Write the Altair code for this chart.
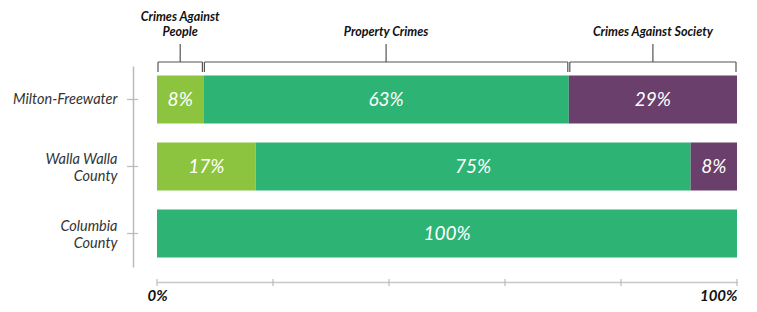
import altair as alt
import pandas as pd

# ---- data ----
categories = ["Milton-Freewater", "Walla Walla\nCounty", "Columbia\nCounty"]
crime_types = ["Crimes Against People", "Property Crimes", "Crimes Against Society"]
bracket_labels = ["Crimes Against\nPeople", "Property Crimes", "Crimes Against Society"]
people = [8, 17, 0]
property_crimes = [63, 75, 100]
society = [29, 8, 0]
x_ticks = [0, 20, 40, 60, 80, 100]
colors = ["#8cc43f", "#2db474", "#6b3f6b"]

FONT = "Lato"

rows = []
for i, cat in enumerate(categories):
    vals = [people[i], property_crimes[i], society[i]]
    start = 0
    for t, v in zip(crime_types, vals):
        rows.append({"cat": cat, "type": t, "value": v, "start": start,
                     "end": start + v, "mid": start + v / 2,
                     "label": f"{v}%"})
        start += v
df = pd.DataFrame(rows)

br = df[df["cat"] == categories[0]].copy()
br["blabel"] = bracket_labels

W, H = 580, 201

xscale = alt.Scale(domain=[0, 100], nice=False)
yaxis = alt.Axis(title=None, offset=24, ticks=False, domainColor="#bbbbbb",
                 domainWidth=1.5, labelFont=FONT, labelFontStyle="italic",
                 labelFontSize=14.5, labelColor="#333333", labelPadding=16,
                 labelLineHeight=17, labelExpr="split(datum.label, '\\n')",
                 labelOffset={"condition": {"test": "indexof(datum.value, '\\n') >= 0",
                                            "value": -7}, "value": 0})
yenc = alt.Y("cat:N", sort=categories, axis=yaxis,
             scale=alt.Scale(paddingInner=0, paddingOuter=0))

base = alt.Chart(df)

bars = base.mark_bar(size=48).encode(
    x=alt.X("start:Q", scale=xscale,
            axis=alt.Axis(title=None, offset=15, ticks=False, grid=False,
                          values=x_ticks, domainColor="#c8c8c8", domainWidth=1.5,
                          labelFont=FONT, labelFontStyle="italic",
                          labelFontWeight="bold", labelFontSize=15,
                          labelColor="#111111", labelPadding=6,
                          labelFlush=False,
                          labelAlign={"condition": {"test": "datum.value == 100",
                                                    "value": "right"},
                                      "value": "center"},
                          labelExpr="datum.value == 0 || datum.value == 100 ? datum.value + '%' : ''")),
    x2="end:Q",
    y=yenc,
    color=alt.Color("type:N", scale=alt.Scale(domain=crime_types, range=colors),
                    legend=None),
)

texts = base.transform_filter("datum.value > 0").mark_text(
    font=FONT, fontStyle="italic", fontSize=19, color="white",
    align="center", baseline="middle"
).encode(x=alt.X("mid:Q", scale=xscale), y=yenc, text="label:N")

# y axis ticks (crossing the axis line)
ytick = alt.Chart(pd.DataFrame({"cat": categories})).mark_rule(
    color="#bbbbbb", strokeWidth=1.2
).encode(y=alt.Y("cat:N", sort=categories), x=alt.value(-30), x2=alt.value(-19))

# x axis ticks (crossing the axis line)
xtick = alt.Chart(pd.DataFrame({"tick": x_ticks})).mark_rule(
    color="#bbbbbb", strokeWidth=1.2
).encode(x=alt.X("tick:Q", scale=xscale), y=alt.value(H + 12), y2=alt.value(H + 19))

bb = alt.Chart(br)
rule_kw = dict(color="#555555", strokeWidth=1.2)
hline = bb.mark_rule(xOffset=1, x2Offset=-1, **rule_kw).encode(
    x=alt.X("start:Q", scale=xscale), x2="end:Q", y=alt.value(-4))
lend = bb.mark_rule(xOffset=1, **rule_kw).encode(
    x=alt.X("start:Q", scale=xscale), y=alt.value(-4), y2=alt.value(6))
rend = bb.mark_rule(xOffset=-1, **rule_kw).encode(
    x=alt.X("end:Q", scale=xscale), y=alt.value(-4), y2=alt.value(6))
stem = bb.mark_rule(**rule_kw).encode(
    x=alt.X("mid:Q", scale=xscale), y=alt.value(-22), y2=alt.value(-4))
btext = bb.transform_calculate(
    line="split(datum.blabel, '\\n')",
    n="length(split(datum.blabel, '\\n'))"
).transform_flatten(["line"]).transform_window(
    idx="row_number()", groupby=["blabel"]
).transform_calculate(
    ty="-27 - 15 * (datum.n - datum.idx)"
).mark_text(
    font=FONT, fontStyle="italic", fontWeight="bold", fontSize=12.5,
    color="#111111", align="center", baseline="bottom"
).encode(x=alt.X("mid:Q", scale=xscale), y=alt.Y("ty:Q", scale=None),
         text="line:N")

chart = alt.layer(bars, texts, ytick, xtick, hline, lend, rend, stem, btext).properties(
    width=W, height=H,
    autosize=alt.AutoSizeParams(type="none"),
    padding={"left": 149, "top": 58, "right": 12, "bottom": 37},
).configure_view(stroke=None)

chart.save("out.html", embed_options={"renderer": "svg", "actions": False})
